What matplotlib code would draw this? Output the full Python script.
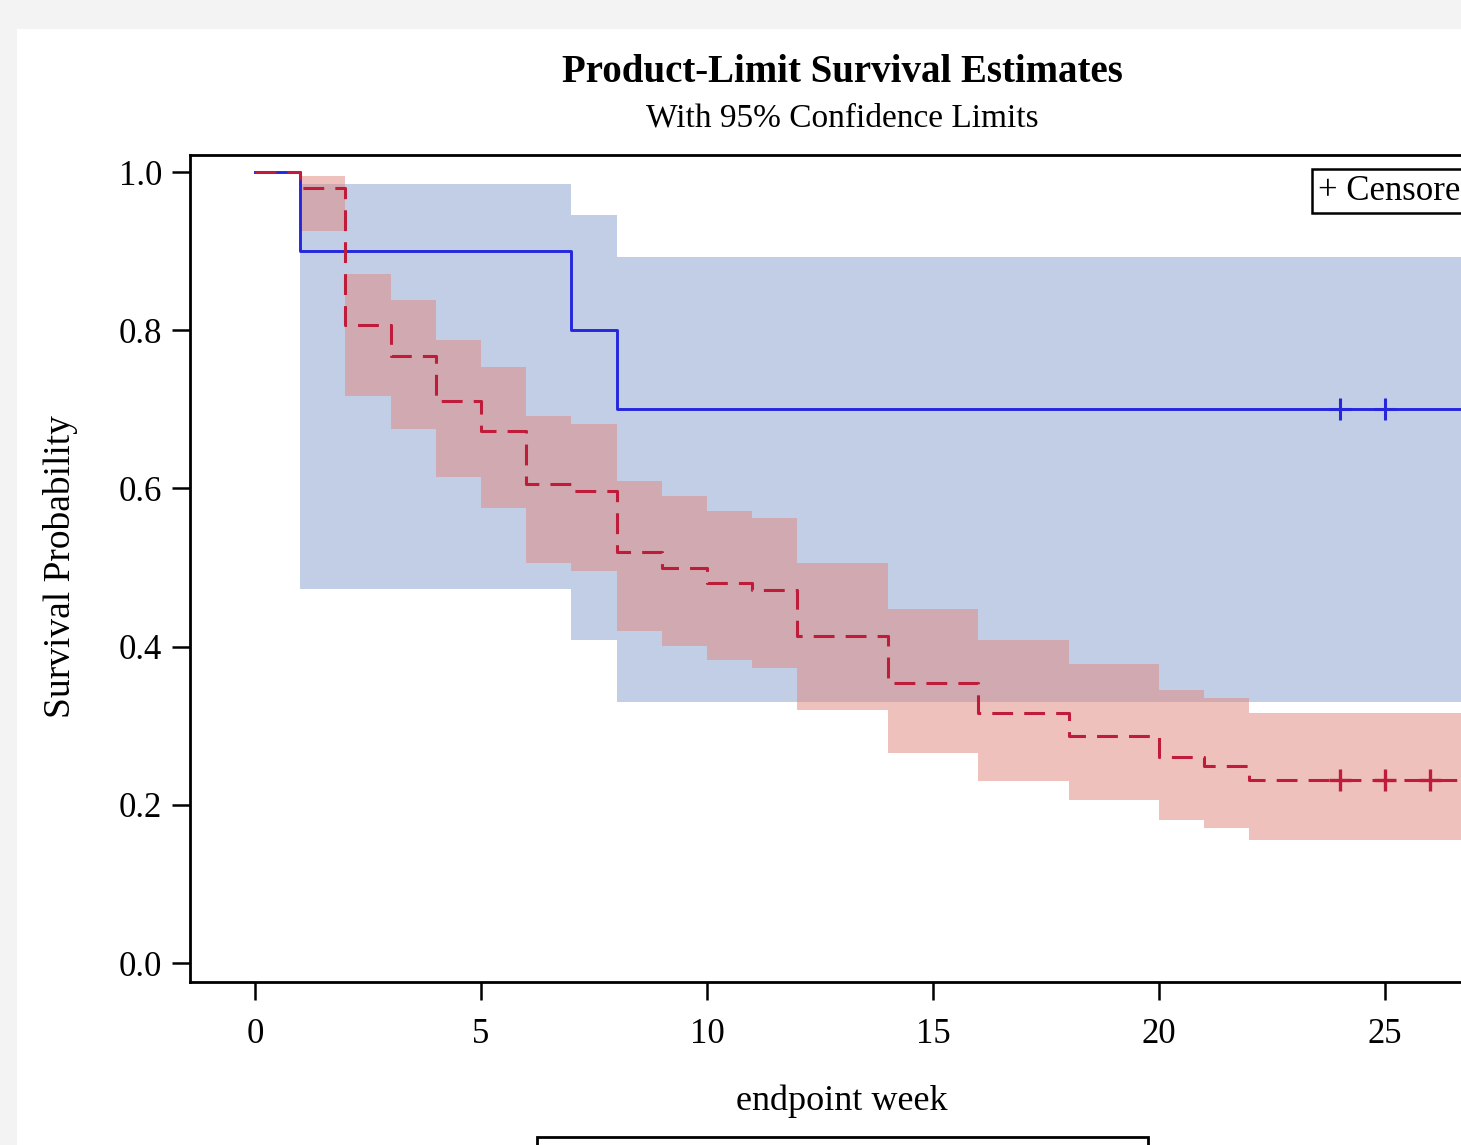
import numpy as np
import matplotlib
matplotlib.use("Agg")
import matplotlib.pyplot as plt
from matplotlib.patches import Rectangle

plt.rcParams['font.family'] = ['Liberation Serif', 'DejaVu Serif']
plt.rcParams['lines.scale_dashes'] = False

# group 1 (solid blue)
blue_time = [0, 1, 7, 8]
blue_surv = [1.0, 0.900, 0.800, 0.700]
blue_ci_time = [1, 7, 8]
blue_upper = [0.985, 0.946, 0.893]
blue_lower = [0.473, 0.408, 0.330]
blue_cens = [24, 25]

# group 2 (dashed red)
red_time = [0, 1, 2, 3, 4, 5, 6, 7, 8, 9, 10, 11, 12, 14, 16, 18, 20, 21, 22]
red_surv = [1.0, 0.980, 0.807, 0.768, 0.711, 0.673, 0.606, 0.597, 0.520, 0.500,
            0.480, 0.471, 0.414, 0.354, 0.316, 0.287, 0.260, 0.249, 0.231]
red_ci_time = red_time[1:]
red_upper = [0.995, 0.871, 0.838, 0.788, 0.753, 0.692, 0.682, 0.610, 0.590, 0.572,
             0.563, 0.506, 0.448, 0.408, 0.378, 0.345, 0.335, 0.316]
red_lower = [0.926, 0.717, 0.675, 0.615, 0.575, 0.506, 0.496, 0.420, 0.401, 0.383,
             0.373, 0.320, 0.265, 0.230, 0.206, 0.181, 0.171, 0.156]
red_cens = [24, 25, 26]

t_end = 27
x_ticks = [0, 5, 10, 15, 20, 25]
y_ticks = [0.0, 0.2, 0.4, 0.6, 0.8, 1.0]

W, H = 1461, 1145
fig = plt.figure(figsize=(W / 100, H / 100), dpi=100)
fig.patch.set_facecolor('#f3f3f3')
# white page area of the screenshot
fig.patches.append(Rectangle((17 / W, 0), 1, 1 - 29 / H, transform=fig.transFigure,
                             facecolor='white', edgecolor='none', zorder=-5))

ax = fig.add_axes([190 / W, 1 - 982 / H, (1503 - 190) / W, (982 - 155) / H])
ax.set_xlim(-1.438, 27.61)
ax.set_ylim(-0.024, 1.0215)


def ext(t, v):
    # extend step arrays to the end of follow-up
    return np.append(t, t_end), np.append(v, v[-1])


x, lo = ext(blue_ci_time, blue_lower)
_, hi = ext(blue_ci_time, blue_upper)
ax.fill_between(x, lo, hi, step='post', color=(135/255, 159/255, 205/255), alpha=0.5, lw=0)
x, lo = ext(red_ci_time, red_lower)
_, hi = ext(red_ci_time, red_upper)
ax.fill_between(x, lo, hi, step='post', color=(225/255, 133/255, 125/255), alpha=0.5, lw=0)

x, s = ext(blue_time, blue_surv)
ax.step(x, s, where='post', color='#2626dc', lw=2.1)
x, s = ext(red_time, red_surv)
ax.step(x, s, where='post', color='#bf1b3a', lw=2.2, dashes=(15, 8))

ax.plot(blue_cens, [blue_surv[-1]] * len(blue_cens), ls='none', marker='+',
        ms=16, mew=2.2, color='#2626dc')
ax.plot(red_cens, [red_surv[-1]] * len(red_cens), ls='none', marker='+',
        ms=16, mew=2.4, color='#bf1b3a')

for sp in ax.spines.values():
    sp.set_linewidth(2)
ax.set_xticks(x_ticks)
ax.set_yticks(y_ticks)
ax.set_yticklabels([f'{v:.1f}' for v in y_ticks])
ax.tick_params(direction='out', length=13, width=1.8, labelsize=25)
ax.tick_params(axis='x', pad=13)
ax.tick_params(axis='y', pad=7)
ax.set_xlabel('endpoint week', fontsize=26)
ax.xaxis.set_label_coords((842 - 190) / 1313, (982 - 1085) / 827)
ax.set_ylabel('Survival Probability', fontsize=27)
ax.yaxis.set_label_coords((78 - 190) / 1313, (982 - 567) / 827)

# legend for censored marks
ax.text(1318 / W, 1 - 191 / H, '+ Censored', transform=fig.transFigure,
        fontsize=25, va='center', ha='left',
        bbox=dict(boxstyle='square,pad=0.17', fc='white', ec='black', lw=1.8))

fig.text(842 / W, 1 - 72 / H, 'Product-Limit Survival Estimates', ha='center',
         va='center', fontsize=28, fontweight='bold')
fig.text(842 / W, 1 - 118 / H, 'With 95% Confidence Limits', ha='center',
         va='center', fontsize=24)

# group legend box, cut off at the bottom of the screenshot
fig.patches.append(Rectangle((537 / W, -0.05), (1148 - 537) / W, 0.05 + (1145 - 1137) / H,
                             transform=fig.transFigure, facecolor='white',
                             edgecolor='black', lw=2))

fig.savefig('out.png', dpi=100)
